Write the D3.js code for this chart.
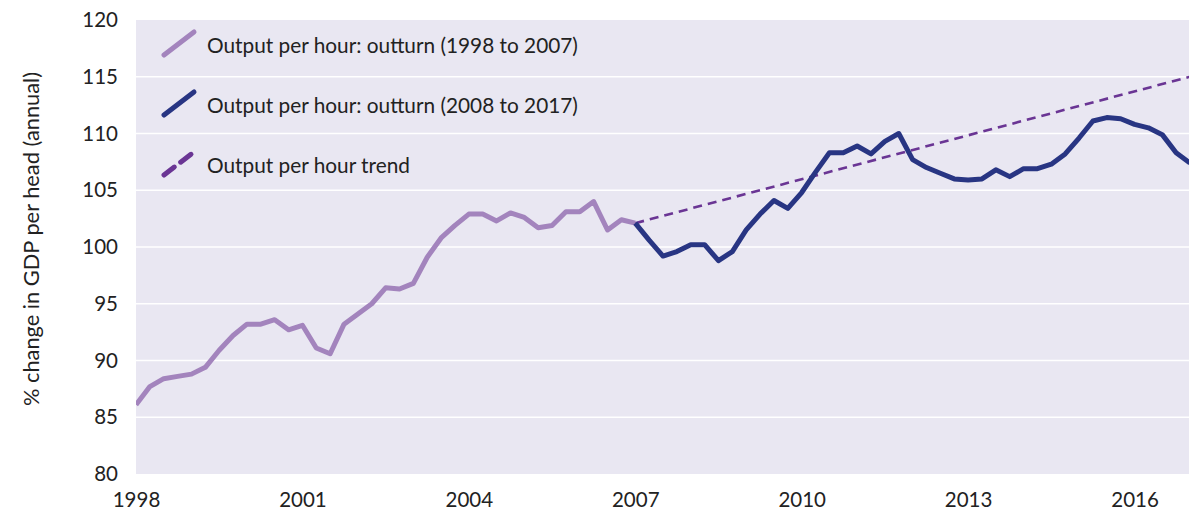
<!DOCTYPE html>
<html><head><meta charset="utf-8">
<script src="https://cdn.jsdelivr.net/npm/d3@7"></script>
<style>
html,body{margin:0;padding:0;background:#fff;}
svg{display:block;font-family:Lato,"Noto Sans",sans-serif;}
</style></head>
<body><svg id="chart" width="1189" height="516"></svg>
<script>
// ---- data ----
const startYear = 1998;              // first quarter 1998 Q1
const outturnEarly = [86.1,87.7,88.4,88.6,88.8,89.4,90.9,92.2,93.2,93.2,93.6,92.7,93.1,91.1,90.6,93.2,94.1,95.0,96.4,96.3,96.8,99.1,100.8,101.9,102.9,102.9,102.3,103.0,102.6,101.7,101.9,103.1,103.1,104.0,101.5,102.4,102.1];
const outturnLate = [102.1,100.6,99.2,99.6,100.2,100.2,98.8,99.6,101.5,102.9,104.1,103.4,104.8,106.6,108.3,108.3,108.9,108.2,109.3,110.0,107.7,107.0,106.5,106.0,105.9,106.0,106.8,106.2,106.9,106.9,107.3,108.2,109.6,111.1,111.4,111.3,110.8,110.5,109.9,108.3,107.4];
const trendYears = [2007, 2017];
const trendValues = [102.1, 115.0];
const xTicks = [1998, 2001, 2004, 2007, 2010, 2013, 2016];
const yTicks = [80, 85, 90, 95, 100, 105, 110, 115, 120];
const legendLabels = ["Output per hour: outturn (1998 to 2007)", "Output per hour: outturn (2008 to 2017)", "Output per hour trend"];
const colors = {early:"#a384bd", late:"#283583", trend:"#6a3594"};

// ---- layout ----
const svg = d3.select("#chart");
const W = 1189, H = 516;
const x = d3.scaleLinear().domain([1998, 2017]).range([136, 1190]);
const y = d3.scaleLinear().domain([80, 120]).range([474, 20]);

const earlyPts = outturnEarly.map((v,i)=>({t:startYear + i*0.25, v}));
const lateStart = startYear + (outturnEarly.length-1)*0.25;
const latePts = outturnLate.map((v,i)=>({t:lateStart + i*0.25, v}));
const trendPts = trendYears.map((t,i)=>({t, v:trendValues[i]}));

svg.append("defs").append("clipPath").attr("id","clip")
  .append("rect").attr("x",136).attr("y",20).attr("width",W-136).attr("height",454);

svg.append("rect").attr("x",136).attr("y",20).attr("width",W-136).attr("height",454).attr("fill","#e9e7f2");

// gridlines
svg.append("g").selectAll("line").data(yTicks.filter(d=>d>80 && d<120)).join("line")
  .attr("x1",136).attr("x2",W).attr("y1",d=>y(d)).attr("y2",d=>y(d))
  .attr("stroke","#fff").attr("stroke-width",1.5);

const FONT = "Lato,'Noto Sans',sans-serif";
// y axis labels
const yAxis = d3.axisLeft(y).tickValues(yTicks).tickSize(0).tickPadding(18);
const gy = svg.append("g").attr("transform","translate(136,0)").call(yAxis);
gy.select(".domain").remove();
gy.selectAll("text").attr("font-size",20.5).attr("fill","#222").attr("font-family",FONT);

// x axis labels
const xAxis = d3.axisBottom(x).tickValues(xTicks).tickFormat(d3.format("d")).tickSize(0).tickPadding(18);
const gx = svg.append("g").attr("transform","translate(0,474)").call(xAxis);
gx.select(".domain").remove();
gx.selectAll("text").attr("font-size",20.5).attr("fill","#222").attr("font-family",FONT);

// y title
svg.append("text").attr("transform","translate(39,239) rotate(-90)")
  .attr("text-anchor","middle").attr("font-size",21.8).attr("fill","#222")
  .text("% change in GDP per head (annual)");

const line = d3.line().x(d=>x(d.t)).y(d=>y(d.v));
const plot = svg.append("g").attr("clip-path","url(#clip)");
plot.append("path").datum(trendPts).attr("d",line).attr("fill","none")
  .attr("stroke",colors.trend).attr("stroke-width",2.6).attr("stroke-dasharray","9,6");
plot.append("path").datum(earlyPts).attr("d",line).attr("fill","none")
  .attr("stroke",colors.early).attr("stroke-width",5).attr("stroke-linejoin","round");
plot.append("path").datum(latePts).attr("d",line).attr("fill","none")
  .attr("stroke",colors.late).attr("stroke-width",5).attr("stroke-linejoin","round");

// legend
const lg = svg.append("g");
const legendStyles = [
  {c:colors.early, w:5, dash:null},
  {c:colors.late, w:5, dash:null},
  {c:colors.trend, w:5, dash:"13,8"}
];
legendLabels.forEach((lab,i)=>{
  const cy = 46 + i*60;
  const s = legendStyles[i];
  lg.append("line").attr("x1",164).attr("y1",cy+9).attr("x2",194).attr("y2",cy-14)
    .attr("stroke",s.c).attr("stroke-width",s.w).attr("stroke-linecap","round")
    .attr("stroke-dasharray",s.dash);
  lg.append("text").attr("x",207).attr("y",cy+7).attr("font-size",20.8).attr("fill","#222").text(lab);
});
</script></body></html>
